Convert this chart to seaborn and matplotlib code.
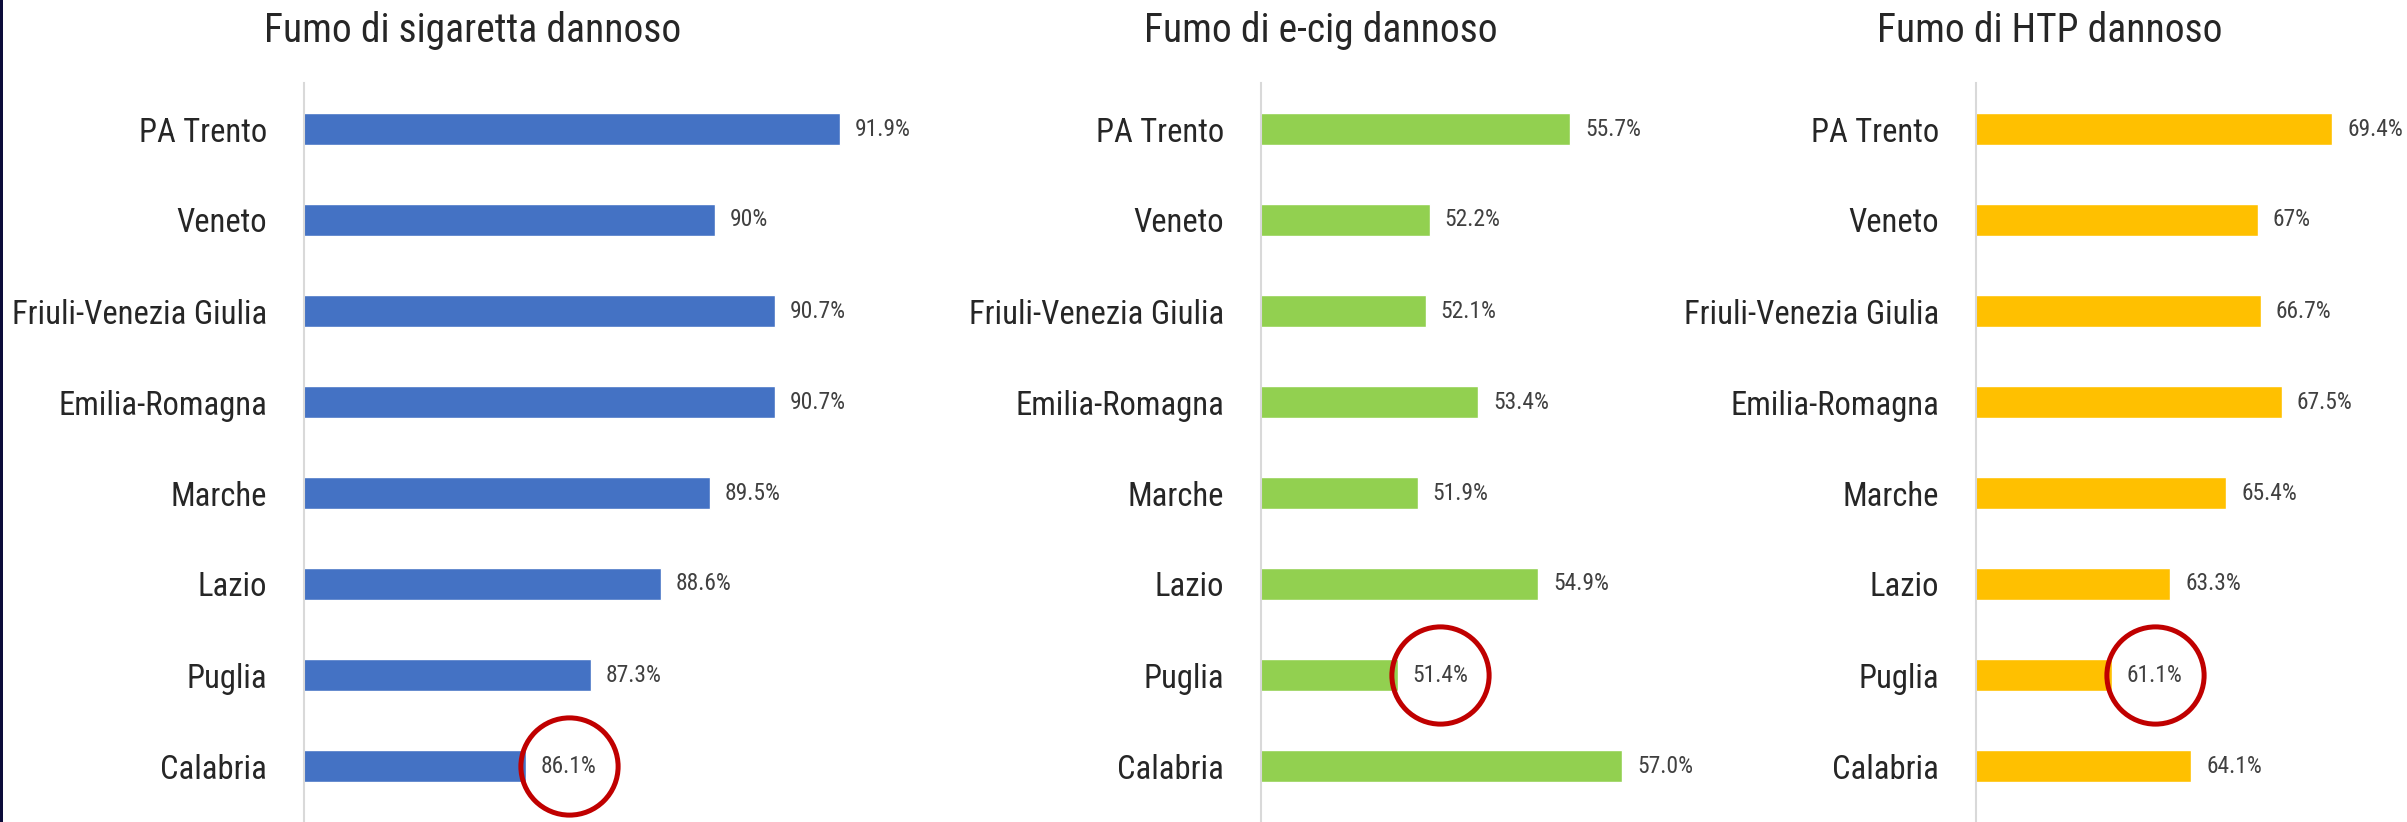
import os
import numpy as np
import pandas as pd
import matplotlib
matplotlib.use("Agg")
import matplotlib.pyplot as plt
import seaborn as sns
from matplotlib import font_manager as fm
from matplotlib.patches import Rectangle

# ---------------- data ----------------
regions = ["PA Trento", "Veneto", "Friuli-Venezia Giulia", "Emilia-Romagna",
           "Marche", "Lazio", "Puglia", "Calabria"]
titles = ["Fumo di sigaretta dannoso", "Fumo di e-cig dannoso", "Fumo di HTP dannoso"]

cig_values = [91.9, 89.6, 90.7, 90.7, 89.5, 88.6, 87.3, 86.1]
cig_labels = ["91.9%", "90%", "90.7%", "90.7%", "89.5%", "88.6%", "87.3%", "86.1%"]

ecig_values = [55.7, 52.2, 52.1, 53.4, 51.9, 54.9, 51.4, 57.0]
ecig_labels = ["55.7%", "52.2%", "52.1%", "53.4%", "51.9%", "54.9%", "51.4%", "57.0%"]

htp_values = [69.4, 66.6, 66.7, 67.5, 65.4, 63.3, 61.1, 64.1]
htp_labels = ["69.4%", "67%", "66.7%", "67.5%", "65.4%", "63.3%", "61.1%", "64.1%"]

highlighted = ["Calabria", "Puglia", "Puglia"]

# ---------------- style ----------------
sns.set_style("white")
colors = ["#4472C4", "#92D050", "#FFC000"]
RED = "#C00000"
TITLE_C = "#262626"
CAT_C = "#262626"
VAL_C = "#404040"

W, H = 2407, 822
fig = plt.figure(figsize=(W / 100, H / 100), dpi=100)
fig.patch.set_facecolor("white")
renderer = fig.canvas.get_renderer()


def find_font():
    files = [f.fname for f in fm.fontManager.ttflist]
    excl = ("Bold", "Italic", "Oblique", "Light", "Medium", "Thin", "Black", "Semi", "Extra")

    def pick(keys):
        for f in sorted(files):
            b = os.path.basename(f)
            if all(k in b for k in keys) and not any(e in b for e in excl):
                return f
        return None

    for keys in (["Roboto", "Condensed"], ["Narrow"], ["DejaVuSansCondensed"], ["Condensed"]):
        f = pick(keys)
        if f:
            return f
    return fm.findfont(fm.FontProperties(family="Roboto"))


FONT = find_font()


def fp(size):
    return fm.FontProperties(fname=FONT, size=size)


def fit_size(text, target_px, base=20.0):
    t = fig.text(0, 0, text, fontproperties=fp(base))
    w = t.get_window_extent(renderer).width
    t.remove()
    return base * target_px / w


title_size = fit_size("Fumo di sigaretta dannoso", 416)
cat_size = fit_size("Friuli-Venezia Giulia", 254)
val_size = fit_size("88.6%", 56)

# ---------------- layout ----------------
panels = [
    dict(values=cig_values, labels=cig_labels, left=304, xmin=82, xmax=93, ppu=54.1, tx=473),
    dict(values=ecig_values, labels=ecig_labels, left=1261, xmin=48, xmax=58, ppu=40.15, tx=1321),
    dict(values=htp_values, labels=htp_labels, left=1976, xmin=56, xmax=72, ppu=26.6, tx=2050),
]
ax_top_px = 83
row0_px = 129
row_gap = 91

axes = []
ann_store = []
for k, p in enumerate(panels):
    width_px = (p["xmax"] - p["xmin"]) * p["ppu"]
    ax = fig.add_axes([p["left"] / W, 0, width_px / W, (H - ax_top_px) / H])
    df = pd.DataFrame({"Regione": regions, "Valore": p["values"]})
    sns.barplot(data=df, x="Valore", y="Regione", orient="h", color=colors[k],
                saturation=1, width=0.35, ax=ax)
    ax.set_xlim(p["xmin"], p["xmax"])
    top = -(row0_px - ax_top_px) / row_gap
    bottom = (H - row0_px) / row_gap
    ax.set_ylim(bottom, top)
    ax.set_xlabel("")
    ax.set_ylabel("")
    ax.set_xticks([])
    for s in ["top", "right", "bottom"]:
        ax.spines[s].set_visible(False)
    ax.spines["left"].set_color("#D9D9D9")
    ax.spines["left"].set_linewidth(1.5)
    ax.tick_params(axis="y", length=0, pad=26.5)
    ax.set_yticks(range(len(regions)))
    ax.set_yticklabels(regions)
    for lbl in ax.get_yticklabels():
        lbl.set_fontproperties(fp(cat_size))
        lbl.set_color(CAT_C)
    ax.patch.set_alpha(0)

    anns = []
    for i, (v, lab) in enumerate(zip(p["values"], p["labels"])):
        a = ax.annotate(lab, xy=(v, i), xytext=(10.8, 0), textcoords="offset points",
                        va="center", ha="left", color=VAL_C,
                        fontproperties=fp(val_size), annotation_clip=False)
        anns.append(a)
    ann_store.append(anns)

    fig.text(p["tx"] / W, 1 - 42 / H, titles[k], ha="center", va="baseline",
             color=TITLE_C, fontproperties=fp(title_size))
    axes.append(ax)

# ---------------- highlight circles ----------------
fig.canvas.draw()
renderer = fig.canvas.get_renderer()
for ax, anns, reg in zip(axes, ann_store, highlighted):
    idx = regions.index(reg)
    bb = anns[idx].get_window_extent(renderer)
    cx, cy = (bb.x0 + bb.x1) / 2, (bb.y0 + bb.y1) / 2
    dx, dy = ax.transData.inverted().transform((cx, cy))
    ax.plot([dx], [dy], marker="o", ms=70, mfc="none", mec=RED, mew=3.6,
            clip_on=False, zorder=6)

# left dark border
fig.add_artist(Rectangle((0, 0), 2.5 / W, 1, transform=fig.transFigure,
                         facecolor="#0C0C3A", edgecolor="none", zorder=10))

fig.savefig("out.png", dpi=100, facecolor="white")
